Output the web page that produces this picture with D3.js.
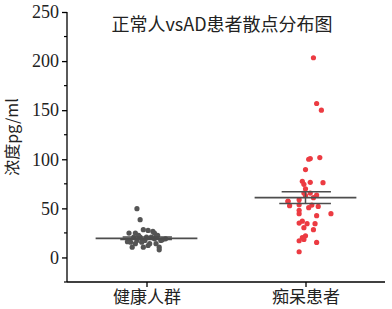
<!DOCTYPE html>
<html lang="zh">
  <head>
    <meta charset="utf-8">
    <title>正常人vsAD患者散点分布图</title>
    <script src="https://d3js.org/d3.v7.min.js"></script>
    <style>
      body { margin: 0; background: #fff; }
      text { fill: #222; }
    </style>
  </head>
  <body>
    <script>
      // data
      var categories = ["健康人群", "痴呆患者"]
      var yTicks = [0, 50, 100, 150, 200, 250]

      var healthyValues = [49.7, 38.5, 28.3, 24.8, 24.8, 26.5, 27.5, 24.8, 22.4, 22.4, 20.7, 15.6, 14, 15.6, 14, 17.3, 10.5, 10.5, 12.2, 17.3, 19, 19, 17.3, 20.7, 20.7, 20.7, 14, 7.8, 10.5, 18, 21, 16]
      // horizontal jitter, in category steps
      var healthyJitter = [-0.06, -0.04, -0.02, -0.11, -0.07, 0.04, 0.01, 0.05, 0.07, -0.05, 0.0, -0.1, -0.07, -0.03, 0.02, 0.09, 0.08, -0.02, 0.01, -0.06, 0.05, 0.12, -0.01, -0.04, -0.08, 0.03, 0.06, 0.08, -0.09, 0.1, 0.06, -0.12]

      var adValues = [203.4, 156.8, 150, 100.7, 101.7, 89.5, 77.6, 74.5, 76.5, 76.2, 70, 65.6, 65.6, 63.6, 63, 57.5, 58.9, 60.9, 52.7, 53.8, 53.4, 50.7, 52, 48, 44.6, 44.6, 42.6, 37, 35, 34.4, 34.4, 30.3, 28.3, 22.1, 20.1, 18.4, 17, 15.3, 5.8, 100, 57]
      var adJitter = [0.05, 0.07, 0.10, 0.03, 0.09, 0.0, -0.02, -0.01, 0.03, 0.11, 0.0, -0.01, 0.03, 0.07, 0.0, -0.11, -0.04, 0.05, -0.10, -0.04, 0.04, 0.02, 0.08, -0.04, -0.04, 0.16, 0.07, -0.02, -0.04, 0.01, 0.06, -0.01, 0.05, 0.0, -0.02, -0.01, -0.04, 0.07, -0.04, 0.02, -0.11]

      var means = [19.4, 61]
      var errUpper = [20.8, 67]
      var errLower = [18.2, 55]

      var width = 392, height = 309
      var margin = {top: 12, right: 7, bottom: 27, left: 67}

      var svg = d3.select("body").append("svg")
        .attr("width", width)
        .attr("height", height)

      var x = d3.scalePoint()
        .domain(categories)
        .range([margin.left, width - margin.right])
        .padding(0.5)

      var y = d3.scaleLinear()
        .domain([-25, 250])
        .range([height - margin.bottom, margin.top])

      var step = x.step()
      var serif = "'Liberation Serif', 'DejaVu Serif', serif"
      var cjk = "'Noto Sans CJK SC', sans-serif"

      // y axis
      var yAxis = svg.append("g")
        .attr("transform", "translate(" + margin.left + ",0)")
        .call(d3.axisLeft(y).tickValues(yTicks).tickSize(5).tickPadding(3))
      yAxis.select(".domain").attr("d", "M0," + (height - margin.bottom) + "V" + margin.top)
      yAxis.selectAll("line, path").attr("stroke", "#000").attr("stroke-width", 1.3)
      yAxis.selectAll("text").style("font-family", serif).style("font-size", "18px").attr("fill", "#222")

      // minor ticks
      var minor = d3.range(-25, 250, 50).filter(function(d) { return yTicks.indexOf(d) < 0 })
      svg.append("g").selectAll("line").data(minor).enter().append("line")
        .attr("x1", margin.left - 3).attr("x2", margin.left)
        .attr("y1", function(d) { return y(d) }).attr("y2", function(d) { return y(d) })
        .attr("stroke", "#000").attr("stroke-width", 1.2)

      // x axis
      var xAxis = svg.append("g")
        .attr("transform", "translate(0," + (height - margin.bottom) + ")")
        .call(d3.axisBottom(x).tickSize(5).tickPadding(6))
      xAxis.select(".domain").attr("d", "M" + margin.left + ",0H" + (width - margin.right))
      xAxis.selectAll("line, path").attr("stroke", "#000").attr("stroke-width", 1.3)
      xAxis.selectAll("text").style("font-family", cjk).style("font-size", "17px").attr("fill", "#222")
        .attr("dy", "0.6em")

      // points
      var groups = [
        {values: healthyValues, jitter: healthyJitter, color: "#555555"},
        {values: adValues, jitter: adJitter, color: "#ec3b42"}
      ]
      groups.forEach(function(g, i) {
        svg.append("g").selectAll("circle")
          .data(g.values)
          .enter()
          .append("circle")
            .attr("cx", function(d, j) { return x(categories[i]) + g.jitter[j] * step })
            .attr("cy", function(d) { return y(d) })
            .attr("r", 2.6)
            .attr("fill", g.color)
      })

      // mean lines and error bars
      var bars = svg.append("g").attr("stroke", "#4d4d4d")
      categories.forEach(function(c, i) {
        var cx = x(c)
        bars.append("line")
          .attr("x1", cx - 0.32 * step).attr("x2", cx + 0.32 * step)
          .attr("y1", y(means[i])).attr("y2", y(means[i]))
          .attr("stroke-width", 1.8)
        bars.append("line")
          .attr("x1", cx).attr("x2", cx)
          .attr("y1", y(errUpper[i])).attr("y2", y(errLower[i]))
          .attr("stroke-width", 1.5)
        bars.append("line")
          .attr("x1", cx - 0.15 * step).attr("x2", cx + 0.16 * step)
          .attr("y1", y(errUpper[i])).attr("y2", y(errUpper[i]))
          .attr("stroke-width", 1.5)
        bars.append("line")
          .attr("x1", cx - 0.165 * step).attr("x2", cx + 0.16 * step)
          .attr("y1", y(errLower[i])).attr("y2", y(errLower[i]))
          .attr("stroke-width", 1.5)
      })

      // title
      svg.append("text")
        .attr("x", 222).attr("y", 31)
        .attr("text-anchor", "middle")
        .style("font-family", cjk)
        .style("font-size", "18px")
        .text("正常人vsAD患者散点分布图")

      // y label
      svg.append("text")
        .attr("transform", "translate(18,137) rotate(-90)")
        .attr("text-anchor", "middle")
        .style("font-family", cjk)
        .style("font-size", "16px")
        .attr("fill", "#444")
        .text("浓度pg/ml")
    </script>
  </body>
</html>
